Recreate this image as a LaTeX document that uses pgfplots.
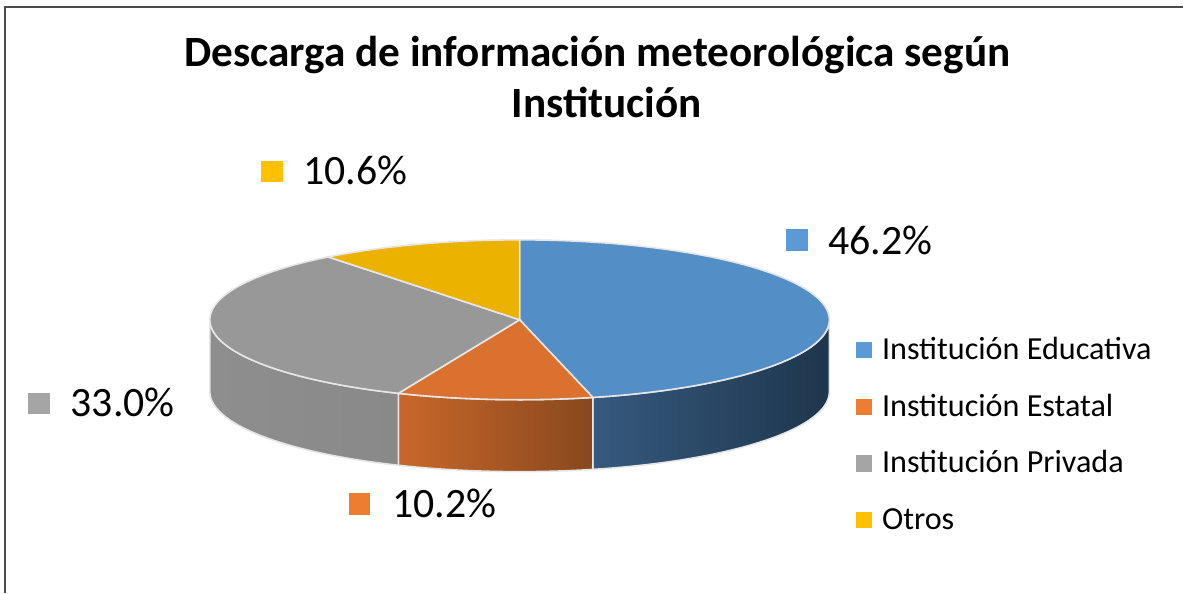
\documentclass[border=0pt]{standalone}
\usepackage{fontspec}
\setmainfont{Carlito}
\usepackage{pgfplots}
\pgfplotsset{compat=1.18}
\usepgfplotslibrary{fillbetween}
\definecolor{cBlue}{HTML}{5B9BD5}
\definecolor{cOrange}{HTML}{ED7D31}
\definecolor{cGray}{HTML}{A5A5A5}
\definecolor{cYellow}{HTML}{FFC000}
\definecolor{tBlue}{HTML}{538FC6}
\definecolor{tOrange}{HTML}{DA712E}
\definecolor{tGray}{HTML}{989898}
\definecolor{tYellow}{HTML}{ECB200}
\definecolor{edge}{HTML}{E6E6E6}
\definecolor{sBlueL}{HTML}{36597E}
\definecolor{sBlueR}{HTML}{1E364C}
\definecolor{sOrL}{HTML}{C9672A}
\definecolor{sOrR}{HTML}{88481E}
\definecolor{sGrL}{HTML}{8E8E8E}
\definecolor{sGrM}{HTML}{A3A3A3}
\definecolor{sGrR}{HTML}{898989}
\begin{document}
\begin{tikzpicture}
\begin{axis}[
  width=11.84cm, height=5.93cm, scale only axis,
  xmin=0, xmax=1184, ymin=0, ymax=593,
  hide axis, clip=false,
]
\path (axis cs:0,0) rectangle (axis cs:1184,593);
% frame
\draw[line width=0.5pt, color=black!70] (axis cs:5,0) -- (axis cs:5,586) -- (axis cs:1184,586);

% ---- side faces (front half: 25% .. 75%) ----
% Institución Educativa 46.2, Estatal 10.2, Privada 33.0, Otros 10.6
\addplot[draw=none, name path=bT, domain=25:46.2, samples=40] ({520+310*sin(3.6*x)}, {273+80*cos(3.6*x)});
\addplot[draw=none, name path=bB, domain=25:46.2, samples=40] ({520+310*sin(3.6*x)}, {201+80*cos(3.6*x)});
\addplot[left color=sBlueL, right color=sBlueR, draw=edge, line width=0.45pt] fill between[of=bT and bB];

\addplot[draw=none, name path=oT, domain=46.2:56.4, samples=20] ({520+310*sin(3.6*x)}, {273+80*cos(3.6*x)});
\addplot[draw=none, name path=oB, domain=46.2:56.4, samples=20] ({520+310*sin(3.6*x)}, {201+80*cos(3.6*x)});
\addplot[left color=sOrL, right color=sOrR, draw=edge, line width=0.45pt] fill between[of=oT and oB];

\addplot[draw=none, name path=gT, domain=56.4:75, samples=30] ({520+310*sin(3.6*x)}, {273+80*cos(3.6*x)});
\addplot[draw=none, name path=gB, domain=56.4:75, samples=30] ({520+310*sin(3.6*x)}, {201+80*cos(3.6*x)});
\addplot[left color=sGrL, middle color=sGrM, right color=sGrR, draw=edge, line width=0.45pt] fill between[of=gT and gB];

% ---- top faces ----
\addplot[fill=tBlue, draw=edge, line width=0.45pt, domain=0:46.2, samples=80] ({520+310*sin(3.6*x)}, {273+80*cos(3.6*x)}) -- (axis cs:520,273) -- cycle;
\addplot[fill=tOrange, draw=edge, line width=0.45pt, domain=46.2:56.4, samples=20] ({520+310*sin(3.6*x)}, {273+80*cos(3.6*x)}) -- (axis cs:520,273) -- cycle;
\addplot[fill=tGray, draw=edge, line width=0.45pt, domain=56.4:89.4, samples=60] ({520+310*sin(3.6*x)}, {273+80*cos(3.6*x)}) -- (axis cs:520,273) -- cycle;
\addplot[fill=tYellow, draw=edge, line width=0.45pt, domain=89.4:100, samples=20] ({520+310*sin(3.6*x)}, {273+80*cos(3.6*x)}) -- (axis cs:520,273) -- cycle;

% ---- data labels ----
\addplot[only marks, mark=square*, mark size=2.85pt, color=cBlue] coordinates {(797.5,353)};
\addplot[only marks, mark=square*, mark size=2.85pt, color=cOrange] coordinates {(359.5,88.5)};
\addplot[only marks, mark=square*, mark size=2.85pt, color=cGray] coordinates {(39,189.5)};
\addplot[only marks, mark=square*, mark size=2.85pt, color=cYellow] coordinates {(272,421.5)};
\node[anchor=base west, inner sep=0, font=\fontsize{11.9}{12}\selectfont] at (axis cs:828,338) {46.2\%};
\node[anchor=base west, inner sep=0, font=\fontsize{11.9}{12}\selectfont] at (axis cs:392,75) {10.2\%};
\node[anchor=base west, inner sep=0, font=\fontsize{11.9}{12}\selectfont] at (axis cs:70,176) {33.0\%};
\node[anchor=base west, inner sep=0, font=\fontsize{11.9}{12}\selectfont] at (axis cs:303,408) {10.6\%};

% ---- title ----
\node[anchor=base, inner sep=0, font=\bfseries\fontsize{12.3}{12}\selectfont] at (axis cs:598,526) {Descarga de información meteorológica según};
\node[anchor=base, inner sep=0, font=\bfseries\fontsize{12.3}{12}\selectfont] at (axis cs:607,475) {Institución};

% ---- legend ----
\addplot[only marks, mark=square*, mark size=2.13pt, color=cBlue] coordinates {(864.5,242.5)};
\addplot[only marks, mark=square*, mark size=2.13pt, color=cOrange] coordinates {(864.5,186)};
\addplot[only marks, mark=square*, mark size=2.13pt, color=cGray] coordinates {(864.5,129)};
\addplot[only marks, mark=square*, mark size=2.13pt, color=cYellow] coordinates {(864.5,72.5)};
\node[anchor=base west, inner sep=0, font=\fontsize{9.15}{10}\selectfont] at (axis cs:882,233) {Institución Educativa};
\node[anchor=base west, inner sep=0, font=\fontsize{9.15}{10}\selectfont] at (axis cs:882,176) {Institución Estatal};
\node[anchor=base west, inner sep=0, font=\fontsize{9.15}{10}\selectfont] at (axis cs:882,120) {Institución Privada};
\node[anchor=base west, inner sep=0, font=\fontsize{9.15}{10}\selectfont] at (axis cs:882,63) {Otros};
\end{axis}
\end{tikzpicture}
\end{document}
